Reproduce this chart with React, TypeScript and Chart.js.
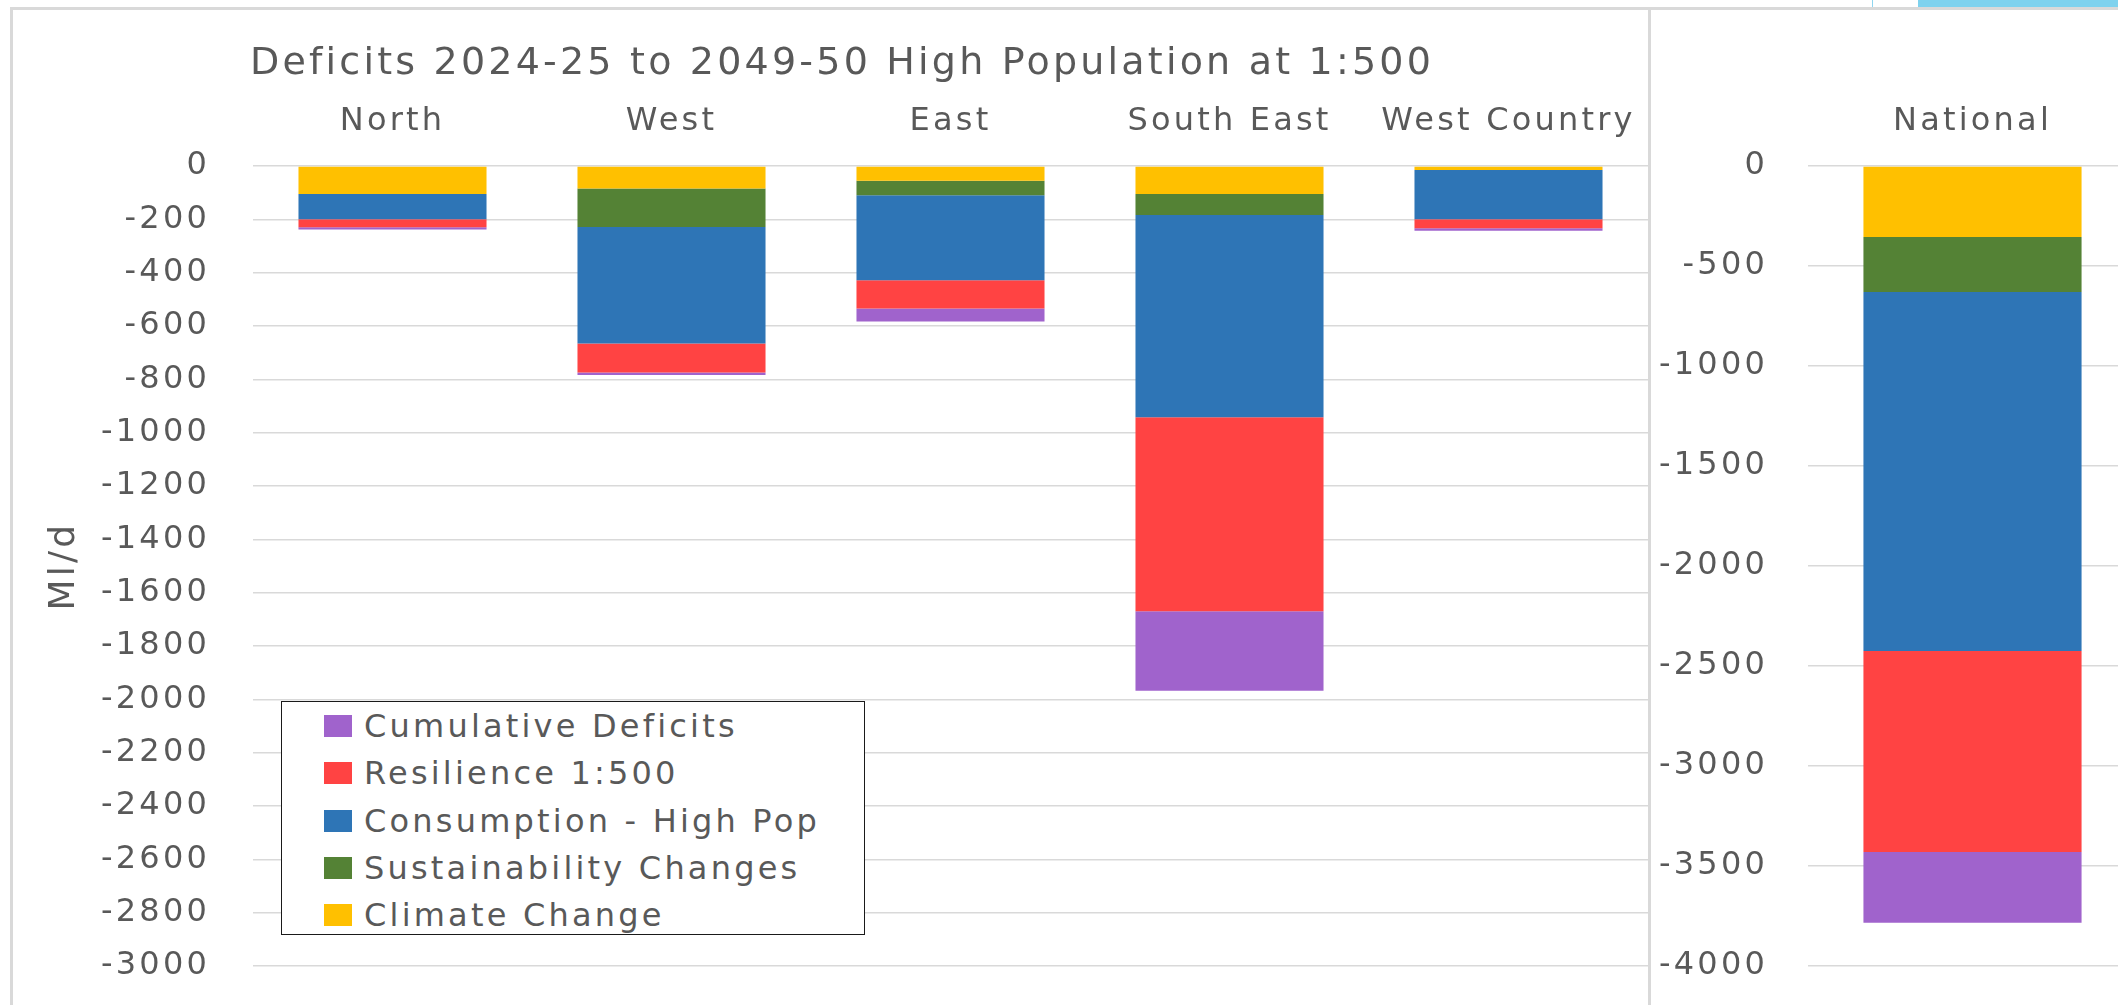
import React, { useEffect, useRef } from 'react';
import { Chart, registerables } from 'chart.js';

Chart.register(...registerables);

// ---------- data ----------
const chartTitle = 'Deficits 2024-25 to 2049-50 High Population at 1:500';
const yAxisTitle = 'Ml/d';
const regions = ['North', 'West', 'East', 'South East', 'West Country'];
const nationalLabels = ['National'];

// series names, stacked from 0 downwards
const seriesNames = [
  'Climate Change',
  'Sustainability Changes',
  'Consumption - High Pop',
  'Resilience 1:500',
  'Cumulative Deficits',
];
const seriesColors = ['#ffc000', '#548235', '#2e75b6', '#ff4343', '#a063cc'];

// regional values (Ml/d)
const climateChange = [-105, -84, -55, -105, -15];
const sustainabilityChanges = [0, -145, -55, -79, 0];
const consumptionHighPop = [-95, -437, -318, -758, -185];
const resilience1in500 = [-30, -108, -106, -728, -33];
const cumulativeDeficits = [-8, -10, -49, -298, -10];

// national values (Ml/d)
const nationalClimate = [-355];
const nationalSustainability = [-275];
const nationalConsumption = [-1795];
const nationalResilience = [-1005];
const nationalCumulative = [-354];

// tick values
const regionalTicks = [0, -200, -400, -600, -800, -1000, -1200, -1400, -1600, -1800, -2000, -2200, -2400, -2600, -2800, -3000];
const nationalTicks = [0, -500, -1000, -1500, -2000, -2500, -3000, -3500, -4000];

// ---------- styling ----------
const FONT = '"DejaVu Sans", "Liberation Sans", sans-serif';
const TEXT = '#595959';
const GRID = '#d9d9d9';
const LS = '3.2px';

const spacingPlugin = {
  id: 'letterSpacingPlugin',
  beforeUpdate(chart: any) {
    try { chart.ctx.letterSpacing = LS; } catch (e) {}
  },
  beforeLayout(chart: any) {
    try { chart.ctx.letterSpacing = LS; } catch (e) {}
  },
  beforeDraw(chart: any) {
    try { chart.ctx.letterSpacing = LS; } catch (e) {}
  },
};

function zeroPadding(s: any) {
  s.paddingTop = 0;
  s.paddingBottom = 0;
  s.paddingLeft = 0;
  s.paddingRight = 0;
}

function buildDatasets(arrays: number[][], barPct: number) {
  return arrays.map((data, i) => ({
    label: seriesNames[i],
    data,
    backgroundColor: seriesColors[i],
    borderWidth: 0,
    barPercentage: barPct,
    categoryPercentage: 1,
  }));
}

function yScale(ticks: number[], width: number, tickPad: number, withTitle: boolean, titlePadTop: number) {
  return {
    stacked: true,
    min: Math.min(...ticks),
    max: Math.max(...ticks),
    afterBuildTicks: (s: any) => {
      s.ticks = ticks.map((v) => ({ value: v }));
    },
    afterFit: (s: any) => {
      s.width = width;
      zeroPadding(s);
    },
    grid: { color: GRID, lineWidth: 1.5, drawTicks: false },
    border: { display: false },
    ticks: {
      color: TEXT,
      font: { family: FONT, size: 32 },
      padding: tickPad,
      callback: (v: any) => String(v),
    },
    title: {
      display: withTitle,
      text: yAxisTitle,
      color: TEXT,
      font: { family: FONT, size: 36 },
      padding: { top: titlePadTop, bottom: 0 },
    },
  };
}

function xScale(height: number) {
  return {
    position: 'top',
    stacked: true,
    afterFit: (s: any) => {
      s.height = height;
      zeroPadding(s);
    },
    grid: { display: false, drawTicks: false },
    border: { display: false },
    ticks: {
      color: TEXT,
      font: { family: FONT, size: 32 },
      padding: 24.8,
      maxRotation: 0,
      minRotation: 0,
      autoSkip: false,
    },
  };
}

export default function App() {
  const leftRef = useRef<HTMLCanvasElement>(null);
  const rightRef = useRef<HTMLCanvasElement>(null);

  useEffect(() => {
    document.body.style.margin = '0';
    const left = new Chart(leftRef.current as HTMLCanvasElement, {
      type: 'bar',
      data: {
        labels: regions,
        datasets: buildDatasets(
          [climateChange, sustainabilityChanges, consumptionHighPop, resilience1in500, cumulativeDeficits],
          0.674
        ) as any,
      },
      options: {
        responsive: false,
        animation: false,
        events: [],
        layout: { padding: { left: 36, right: 0, top: 0, bottom: 39 } },
        plugins: {
          legend: { display: false },
          tooltip: { enabled: false },
          title: {
            display: true,
            text: chartTitle,
            color: TEXT,
            font: { family: FONT, size: 38, weight: 'normal', lineHeight: 1.2 },
            padding: { top: 41.2, bottom: 0 },
          },
        },
        scales: {
          x: xScale(79.2) as any,
          y: yScale(regionalTicks, 217, 43, true, 7) as any,
        },
      },
      plugins: [spacingPlugin as any],
    });

    const right = new Chart(rightRef.current as HTMLCanvasElement, {
      type: 'bar',
      data: {
        labels: nationalLabels,
        datasets: buildDatasets(
          [nationalClimate, nationalSustainability, nationalConsumption, nationalResilience, nationalCumulative],
          0.663
        ) as any,
      },
      options: {
        responsive: false,
        animation: false,
        events: [],
        layout: { padding: { left: 0, right: 0, top: 0, bottom: 39 } },
        plugins: {
          legend: { display: false },
          tooltip: { enabled: false },
          title: { display: false },
        },
        scales: {
          x: xScale(166) as any,
          y: yScale(nationalTicks, 157, 40, false, 0) as any,
        },
      },
      plugins: [spacingPlugin as any],
    });

    return () => {
      left.destroy();
      right.destroy();
    };
  }, []);

  const legendOrder = seriesNames.map((n, i) => i).reverse();

  return (
    <div
      style={{
        position: 'fixed',
        left: 0,
        top: 0,
        width: 2118,
        height: 1005,
        overflow: 'hidden',
        background: '#ffffff',
      }}
    >
      {/* outer frame */}
      <div
        style={{
          position: 'absolute',
          left: 10,
          top: 7,
          width: 2300,
          height: 1200,
          borderLeft: `3px solid ${GRID}`,
          borderTop: `3px solid ${GRID}`,
          boxSizing: 'border-box',
        }}
      />
      {/* separator between panels */}
      <div style={{ position: 'absolute', left: 1648, top: 9, width: 3, height: 1000, background: GRID }} />
      {/* decoration top right */}
      <div style={{ position: 'absolute', left: 1918, top: 0, width: 210, height: 7, background: '#7fd2ee' }} />
      <div style={{ position: 'absolute', left: 1872, top: 0, width: 1, height: 7, background: '#8fd6f0' }} />

      <canvas
        ref={leftRef}
        width={1648}
        height={1005}
        style={{ position: 'absolute', left: 0, top: 0, width: 1648, height: 1005 }}
      />
      <canvas
        ref={rightRef}
        width={486}
        height={1005}
        style={{ position: 'absolute', left: 1651, top: 0, width: 486, height: 1005 }}
      />

      {/* legend */}
      <div
        style={{
          position: 'absolute',
          left: 281,
          top: 701,
          width: 584,
          height: 234,
          border: '1.5px solid #1a1a1a',
          boxSizing: 'border-box',
          background: '#ffffff',
        }}
      >
        {legendOrder.map((idx, row) => (
          <div
            key={seriesNames[idx]}
            style={{
              position: 'absolute',
              left: 42,
              top: 24 + row * 47.3 - 20,
              height: 40,
              display: 'flex',
              alignItems: 'center',
              whiteSpace: 'nowrap',
            }}
          >
            <span
              style={{
                display: 'inline-block',
                width: 28,
                height: 22,
                background: seriesColors[idx],
                marginRight: 12,
              }}
            />
            <span
              style={{
                fontFamily: FONT,
                fontSize: 32,
                letterSpacing: LS,
                color: TEXT,
                lineHeight: '40px',
              }}
            >
              {seriesNames[idx]}
            </span>
          </div>
        ))}
      </div>
    </div>
  );
}
